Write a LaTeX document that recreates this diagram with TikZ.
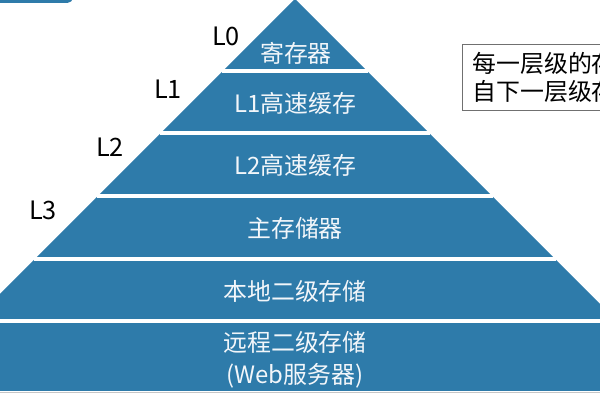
\documentclass[tikz,border=0pt]{standalone}
\usepackage{fontspec}
\setmainfont{Noto Sans CJK SC}
\usepackage{xcolor}
\definecolor{pyrblue}{HTML}{2E7BAA}
\definecolor{pyrtext}{HTML}{F2F6FA}
\definecolor{notegray}{HTML}{707070}
\usetikzlibrary{positioning,calc}

\begin{document}
\begin{tikzpicture}[
  x=0.025cm, y=-0.025cm,
  band/.style={fill=pyrblue, draw=none},
  sep/.style={draw=white, line width=2.2pt},
  lvl/.style={text=pyrtext, align=center, inner sep=0pt,
              font=\fontsize{17}{23}\selectfont},
  tag/.style={text=black, inner sep=0pt, font=\fontsize{18}{20}\selectfont},
  note/.style={draw=notegray, line width=0.6pt, align=left, anchor=north west,
               text width=4.4cm, minimum height=1.65cm, inner xsep=0.25cm,
               font=\fontsize{17}{20}\selectfont},
]
  \useasboundingbox (0,0) rectangle (600,400);
  \clip (0,0) rectangle (600,400);

  % cut-off bar at the top left
  \fill[pyrblue, rounded corners=4pt] (-20,-20) rectangle (73,3);

  % pyramid and the white lines between the levels
  \fill[band] (295,-1) -- (687,391) -- (-97,391) -- cycle;
  \draw[gray!45, line width=0.6pt] (-97,392.5) -- (687,392.5);
  \draw[sep] (222,71)  -- (368,71);
  \draw[sep] (160,133) -- (430,133);
  \draw[sep] (97,196)  -- (493,196);
  \draw[sep] (34,259)  -- (556,259);
  \draw[sep] (-30,321) -- (620,321);

  \node[lvl] (reg)    at (296,53)  {寄存器};
  \node[lvl] (cacheA) at (295,103) {L1高速缓存};
  \node[lvl] (cacheB) at (295,165) {L2高速缓存};
  \node[lvl] (mem)    at (295,228) {主存储器};
  \node[lvl] (local)  at (295,291) {本地二级存储};
  \node[lvl] (remote) at (295,360) {远程二级存储\\(Web服务器)};

  \node[tag] (t0) at (226,36)  {L0};
  \node[tag] (t1) at (168,89)  {L1};
  \node[tag] (t2) at (110,147) {L2};
  \node[tag] (t3) at (43,210)  {L3};

  \node[note] (note) at (462,44) {每一层级的存\\自下一层级存};
\end{tikzpicture}
\end{document}
